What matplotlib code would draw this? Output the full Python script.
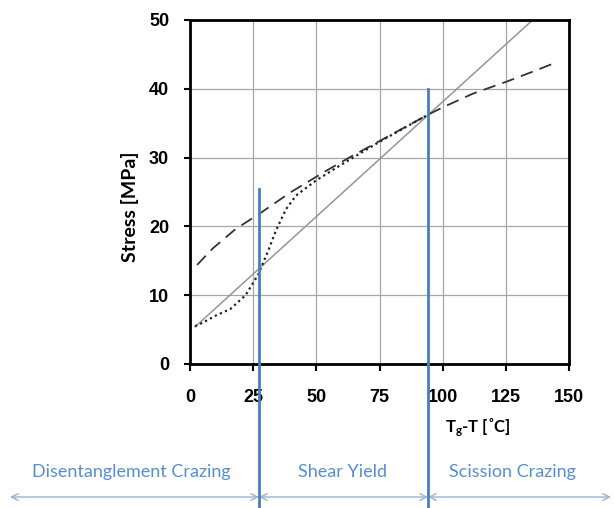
import matplotlib
matplotlib.use("Agg")
import matplotlib.pyplot as plt

plt.rcParams['font.family'] = ['Liberation Sans', 'DejaVu Sans']
plt.rcParams['mathtext.fontset'] = 'custom'
plt.rcParams['mathtext.rm'] = 'Lato'
plt.rcParams['mathtext.bf'] = 'Lato:bold'

# straight reference line (solid grey)
line_x = [2, 135.6]
line_y = [5.4, 50]

# dashed curve
dash_x = [2.8, 9, 18, 27.7, 40, 54, 63, 75, 83, 94, 100, 112, 125, 135, 144]
dash_y = [14.4, 16.8, 19.6, 21.9, 25.0, 28.1, 30.0, 32.4, 34.0, 36.2, 37.3, 39.3, 41.0, 42.4, 43.7]

# dotted curve
dot_x = [2, 5, 10, 16, 22, 27, 31, 34, 38, 42, 50, 60, 75, 94]
dot_y = [5.5, 6.0, 7.0, 8.0, 10.0, 13.0, 16.5, 19.4, 22.5, 24.5, 26.7, 29.0, 32.3, 36.2]

# region boundaries (blue verticals)
bound_x = [27.3, 94.2]
bound_top = [25.5, 40]

regions = ['Disentanglement Crazing', 'Shear Yield', 'Scission Crazing']
region_cx = [131 / 614, 342 / 614, 512 / 614]

fig = plt.figure(figsize=(6.14, 5.08), dpi=100)
ax = fig.add_axes([190 / 614, 1 - 364 / 508, 379 / 614, 344 / 508])

ax.set_xlim(0, 150)
ax.set_ylim(0, 50)
ax.set_xticks([0, 25, 50, 75, 100, 125, 150])
ax.set_yticks([0, 10, 20, 30, 40, 50])
ax.grid(True, color='#a6a6a6', lw=0.9)
ax.set_axisbelow(True)
for s in ax.spines.values():
    s.set_linewidth(2)
    s.set_color('black')
ax.tick_params(axis='x', length=5, width=1.5, pad=13, labelsize=13)
ax.tick_params(axis='y', length=4, width=1.5, pad=11, labelsize=13)
for lab in ax.get_xticklabels() + ax.get_yticklabels():
    lab.set_fontweight('bold')

ax.plot(line_x, line_y, color='#969696', lw=1.1)
ax.plot(dash_x, dash_y, color='#333333', lw=1.3, dashes=(7, 4))
ax.plot(dot_x, dot_y, color='#222222', lw=1.6, linestyle=(0, (1, 1.5)))

# blue boundaries reaching down to the figure bottom
ybot = -(508 - 364) / 344 * 50
for bx, bt in zip(bound_x, bound_top):
    ax.plot([bx, bx], [ybot, bt], color='#4a7ebb', lw=2, clip_on=False, zorder=5)

fig.text(130 / 614, 1 - 207 / 508, 'Stress [MPa]', fontsize=14, fontweight='bold',
         family=['Lato', 'DejaVu Sans'], rotation=90, ha='center', va='center')
fig.text(478 / 614, 1 - 428 / 508, r'$\mathbf{T_g}$-T [˚C]', fontsize=12,
         fontweight='bold', family=['Lato', 'DejaVu Sans'], ha='center', va='center')

for name, cx in zip(regions, region_cx):
    fig.text(cx, 1 - 472 / 508, name, fontsize=13, color='#558ed5',
             family=['Lato', 'DejaVu Sans'], ha='center', va='center')

edges = [(10 / 614, 'figure fraction'), (bound_x[0], 'data'), (bound_x[1], 'data'), (611 / 614, 'figure fraction')]
ya = 1 - 497 / 508
for (x0, c0), (x1, c1) in zip(edges[:-1], edges[1:]):
    ax.annotate('', xy=(x1, ya), xytext=(x0, ya),
                xycoords=(c1, 'figure fraction'), textcoords=(c0, 'figure fraction'),
                arrowprops=dict(arrowstyle='<->', color='#95b3d7', lw=1,
                                shrinkA=0, shrinkB=0, mutation_scale=12),
                annotation_clip=False)

fig.savefig('out.png', dpi=100)
